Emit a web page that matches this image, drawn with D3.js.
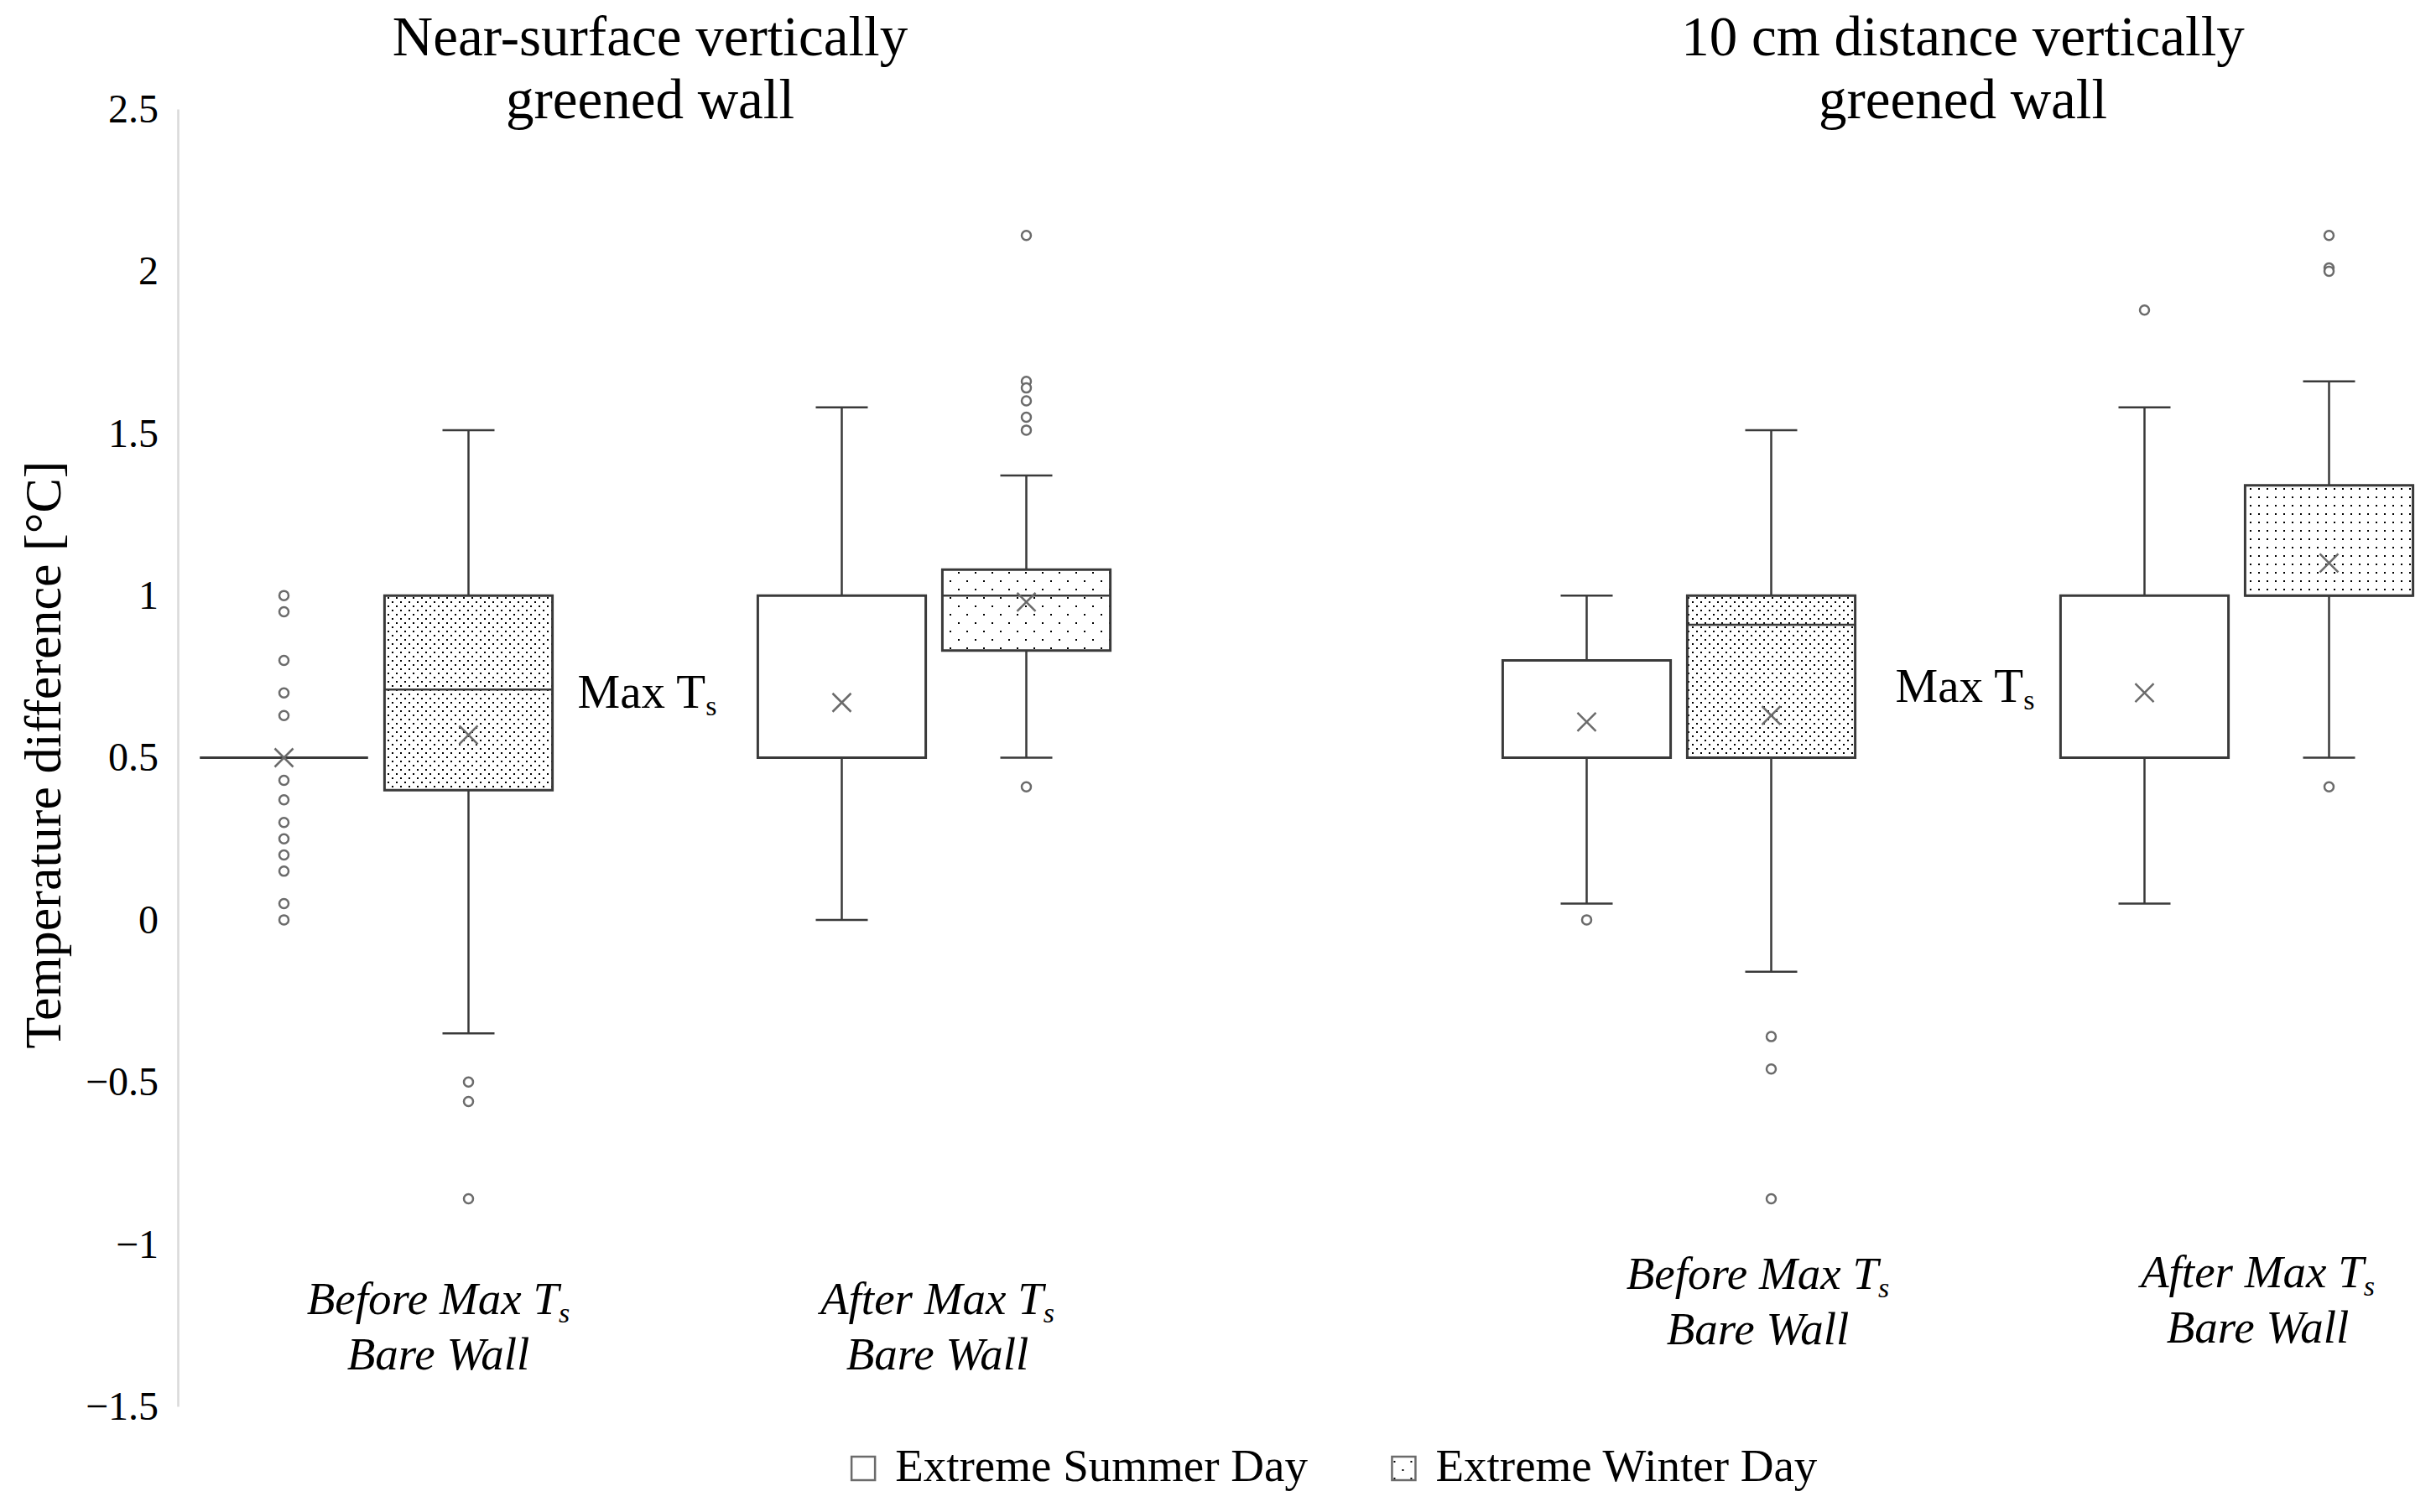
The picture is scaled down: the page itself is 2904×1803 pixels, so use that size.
<!DOCTYPE html>
<html>
<head>
<meta charset="utf-8">
<script src="https://cdn.jsdelivr.net/npm/d3@7"></script>
<style>
  html, body { margin: 0; padding: 0; background: #fff; }
  svg { display: block; font-family: "Liberation Serif", "DejaVu Serif", serif; }
</style>
</head>
<body>
<svg id="chart" width="2904" height="1803"></svg>
<script>
'use strict';

var panels = ['nearSurface', 'tenCm'];
var panelTitles = [
  ['Near-surface vertically', 'greened wall'],
  ['10 cm distance vertically', 'greened wall']
];
var groups = ['before', 'after'];
var groupLabels = [['Before Max T', 's'], ['After Max T', 's']];
var series = ['summer', 'winter'];
var seriesNames = ['Extreme Summer Day', 'Extreme Winter Day'];
var yTicks = [2.5, 2, 1.5, 1, 0.5, 0, -0.5, -1, -1.5];

// one entry per box, ordered panel > group > series
var whiskerLow = [0.5, -0.35, 0.0, 0.5, 0.05, -0.16, 0.05, 0.5];
var q1 = [0.5, 0.4, 0.5, 0.83, 0.5, 0.5, 0.5, 1.0];
var medians = [0.5, 0.71, 0.5, 1.0, 0.5, 0.91, 0.5, 1.0];
var q3 = [0.5, 1.0, 1.0, 1.08, 0.8, 1.0, 1.0, 1.34];
var whiskerHigh = [0.5, 1.51, 1.58, 1.37, 1.0, 1.51, 1.58, 1.66];
var means = [0.5, 0.57, 0.67, 0.98, 0.61, 0.63, 0.7, 1.1];
var outliers = [
  [1.0, 0.95, 0.8, 0.7, 0.63, 0.43, 0.37, 0.3, 0.25, 0.2, 0.15, 0.05, 0.0],
  [-0.5, -0.56, -0.86],
  [],
  [2.11, 1.66, 1.64, 1.6, 1.55, 1.51, 0.41],
  [0.0],
  [-0.36, -0.46, -0.86],
  [1.88],
  [2.11, 2.01, 2.0, 0.41]
];

// fill pattern for each box (summer boxes are plain)
var boxFills = ['white', 'dotsDense', 'white', 'dotsSparse',
                'white', 'dotsDense', 'white', 'dotsMedium'];
// hand placed text boxes below each group, relative to group centre
var labelShift = [[74, 0], [4, 0], [94, -30], [25, -32]];
var maxTsShift = [[30, 0], [48, -7]];

var svg = d3.select('#chart'),
    ink = '#3a3a3a',
    grey = '#6b6b6b',
    boxes = [],
    defs,
    legend,
    plot,
    x,
    xGroup,
    xSeries,
    y;

y = d3.scaleLinear().domain([-1.5, 2.5]).range([1677, 130]);
x = d3.scalePoint().domain(panels).range([781, 2334]);
xGroup = d3.scaleBand().domain(groups).range([-665, 665]);
xSeries = d3.scaleBand().domain(series).range([-220, 220]);

panels.forEach(function (p) {
  groups.forEach(function (g) {
    series.forEach(function (s) {
      var i = boxes.length;
      boxes.push({
        panel: p, group: g, series: s,
        lo: whiskerLow[i], q1: q1[i], med: medians[i], q3: q3[i],
        hi: whiskerHigh[i], mean: means[i], out: outliers[i],
        fill: boxFills[i],
        cx: x(p) + xGroup(g) + xGroup.bandwidth() / 2 +
            xSeries(s) + xSeries.bandwidth() / 2
      });
    });
  });
});

// dot fill patterns
defs = svg.append('defs');
[['dotsDense', 10, [[0, 0], [5, 5]]],
 ['dotsSparse', 20, [[0, 0], [10, 10]]],
 ['dotsMedium', 10, [[0, 0]]]].forEach(function (d) {
  var pat = defs.append('pattern')
      .attr('id', d[0])
      .attr('patternUnits', 'userSpaceOnUse')
      .attr('width', d[1]).attr('height', d[1]);
  pat.append('rect').attr('width', d[1]).attr('height', d[1]).attr('fill', '#fff');
  d[2].forEach(function (pt) {
    pat.append('rect')
        .attr('x', pt[0] + 2).attr('y', pt[1] + 2)
        .attr('width', 2).attr('height', 2)
        .attr('fill', '#000');
  });
});

// y axis
svg.append('g')
    .attr('class', 'y-axis')
    .attr('transform', 'translate(212,0)')
    .call(d3.axisLeft(y).tickValues(yTicks).tickSize(0).tickPadding(23)
        .tickFormat(d3.format('~g')))
    .call(function (g) {
      g.select('.domain').attr('stroke', '#d9d9d9').attr('stroke-width', 2.5);
      g.selectAll('text')
          .attr('font-family', '"Liberation Serif", serif')
          .attr('font-size', 48)
          .attr('fill', '#000');
    });

svg.append('text')
    .attr('transform', 'translate(72,900) rotate(-90)')
    .attr('text-anchor', 'middle')
    .attr('font-size', 62)
    .text('Temperature difference [°C]');

// panel titles
panels.forEach(function (p, pi) {
  svg.append('text')
      .attr('text-anchor', 'middle')
      .attr('font-size', 67)
      .selectAll('tspan')
      .data(panelTitles[pi])
      .join('tspan')
      .attr('x', x(p) - 6 + pi * 12)
      .attr('y', function (d, i) { return 66 + i * 75; })
      .text(function (d) { return d; });
});

plot = svg.append('g').attr('class', 'boxes');

var boxG = plot.selectAll('g.box')
    .data(boxes)
    .join('g')
    .attr('class', 'box');

var halfW = xSeries.bandwidth() * 0.455,
    capW = 31;

// whiskers
boxG.append('path')
    .attr('fill', 'none')
    .attr('stroke', ink)
    .attr('stroke-width', 2.5)
    .attr('d', function (d) {
      if (d.lo === d.hi) { return null; }
      return 'M' + d.cx + ',' + y(d.hi) + 'V' + y(d.q3) +
          'M' + d.cx + ',' + y(d.q1) + 'V' + y(d.lo) +
          'M' + (d.cx - capW) + ',' + y(d.hi) + 'H' + (d.cx + capW) +
          'M' + (d.cx - capW) + ',' + y(d.lo) + 'H' + (d.cx + capW);
    });

// box body, drawn as a path so a flat box still shows as a line
boxG.append('path')
    .attr('fill', function (d) {
      return d.fill === 'white' ? '#fff' : 'url(#' + d.fill + ')';
    })
    .attr('stroke', ink)
    .attr('stroke-width', 3)
    .attr('d', function (d) {
      return 'M' + (d.cx - halfW) + ',' + y(d.q3) +
          'H' + (d.cx + halfW) + 'V' + y(d.q1) +
          'H' + (d.cx - halfW) + 'Z';
    });

// median
boxG.append('line')
    .attr('x1', function (d) { return d.cx - halfW; })
    .attr('x2', function (d) { return d.cx + halfW; })
    .attr('y1', function (d) { return y(d.med); })
    .attr('y2', function (d) { return y(d.med); })
    .attr('stroke', ink)
    .attr('stroke-width', 2.5);

// mean marker
boxG.append('path')
    .attr('fill', 'none')
    .attr('stroke', grey)
    .attr('stroke-width', 2.5)
    .attr('d', function (d) {
      var my = y(d.mean), s = 11;
      return 'M' + (d.cx - s) + ',' + (my - s) + 'L' + (d.cx + s) + ',' + (my + s) +
          'M' + (d.cx - s) + ',' + (my + s) + 'L' + (d.cx + s) + ',' + (my - s);
    });

// outliers
boxG.selectAll('circle')
    .data(function (d) {
      return d.out.map(function (v) { return { cx: d.cx, v: v }; });
    })
    .join('circle')
    .attr('cx', function (d) { return d.cx; })
    .attr('cy', function (d) { return y(d.v); })
    .attr('r', 5.5)
    .attr('fill', '#fff')
    .attr('stroke', grey)
    .attr('stroke-width', 2.5);

// "Max Ts" notes next to the first group of each panel
panels.forEach(function (p, pi) {
  var b = boxes[pi * 4 + 1],
      t = svg.append('text')
          .attr('x', b.cx + halfW + maxTsShift[pi][0])
          .attr('y', y(0.71) + 22 + maxTsShift[pi][1])
          .attr('font-size', 57);
  t.append('tspan').text('Max T');
  t.append('tspan').attr('font-size', 34).attr('dy', 9).text('s');
});

// category labels
panels.forEach(function (p, pi) {
  groups.forEach(function (g, gi) {
    var k = pi * 2 + gi,
        cx = x(p) + xGroup(g) + xGroup.bandwidth() / 2 + labelShift[k][0],
        base = 1567 + labelShift[k][1],
        t = svg.append('text')
            .attr('text-anchor', 'middle')
            .attr('font-style', 'italic')
            .attr('font-size', 55);
    var l1 = t.append('tspan').attr('x', cx).attr('y', base);
    l1.append('tspan').text(groupLabels[gi][0]);
    l1.append('tspan').attr('font-size', 34).attr('dy', 10).text(groupLabels[gi][1]);
    t.append('tspan').attr('x', cx).attr('y', base + 66).text('Bare Wall');
  });
});

// legend
legend = svg.append('g').attr('class', 'legend');
var items = legend.selectAll('g')
    .data(series)
    .join('g');
items.append('rect')
    .attr('width', 28).attr('height', 28)
    .attr('y', 1737)
    .attr('fill', function (d, i) { return i === 0 ? '#fff' : 'url(#dotsSparse)'; })
    .attr('stroke', grey)
    .attr('stroke-width', 2.5);
items.append('text')
    .attr('x', 52)
    .attr('y', 1766)
    .attr('font-size', 55)
    .text(function (d, i) { return seriesNames[i]; });

var offsets = [], cursor = 0;
items.each(function () {
  offsets.push(cursor);
  cursor += this.getBBox().width + 100;
});
var legendLeft = 1591 - (cursor - 100) / 2;
items.attr('transform', function (d, i) {
  return 'translate(' + (legendLeft + offsets[i]) + ',0)';
});
</script>
</body>
</html>
